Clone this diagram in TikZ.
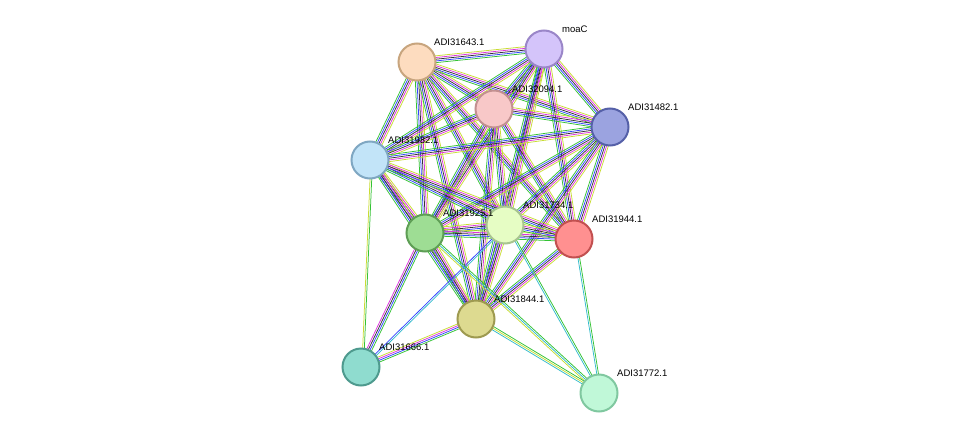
\documentclass[tikz,border=0pt]{standalone}
\usepackage{fontspec}
\setsansfont{Liberation Sans}
\usetikzlibrary{calc,backgrounds}

\definecolor{eg}{HTML}{33C233}
\definecolor{eb}{HTML}{3344FF}
\definecolor{ek}{HTML}{333333}
\definecolor{em}{HTML}{DD33DD}
\definecolor{ey}{HTML}{C8DC33}
\definecolor{ec}{HTML}{33BBCC}
\definecolor{er}{HTML}{EE3333}

\tikzset{
	prot/.style={draw, circle, minimum size=37pt, line width=2pt, inner sep=0pt},
	lbl/.style={font=\sffamily\fontsize{9.5}{10}\selectfont, anchor=south west, inner sep=1pt},
	link/.style={line width=0.75pt}
}

% one coloured strand per colour, side by side
\newcommand{\linkset}[3]{%
	\foreach \c [count=\i] in {#3} {
		\pgfmathsetmacro{\off}{(\i-2.5)*1.7}
		\draw[link, \c] ($(#1)!\off pt!90:(#2)$) -- ($(#2)!\off pt!-90:(#1)$);
	}%
}

\begin{document}
\begin{tikzpicture}[x=1pt, y=-1pt]
	\useasboundingbox (0,0) rectangle (975,439);
	\node [prot, fill={rgb,255:red,253;green,220;blue,191}, draw={rgb,255:red,200;green,165;blue,126}] (P643) at (417,62) {};
	\node [prot, fill={rgb,255:red,212;green,196;blue,250}, draw={rgb,255:red,154;green,134;blue,200}] (moaC) at (544,49) {};
	\node [prot, fill={rgb,255:red,248;green,200;blue,200}, draw={rgb,255:red,194;green,144;blue,144}] (P094) at (494,109) {};
	\node [prot, fill={rgb,255:red,155;green,163;blue,224}, draw={rgb,255:red,85;green,96;blue,168}] (P482) at (610,127) {};
	\node [prot, fill={rgb,255:red,194;green,228;blue,248}, draw={rgb,255:red,127;green,167;blue,194}] (P932) at (370,160) {};
	\node [prot, fill={rgb,255:red,158;green,221;blue,148}, draw={rgb,255:red,94;green,158;blue,85}] (P925) at (425,233) {};
	\node [prot, fill={rgb,255:red,230;green,253;blue,196}, draw={rgb,255:red,168;green,196;blue,144}] (P734) at (505,225) {};
	\node [prot, fill={rgb,255:red,255;green,144;blue,144}, draw={rgb,255:red,194;green,80;blue,80}] (P944) at (574,239) {};
	\node [prot, fill={rgb,255:red,221;green,218;blue,144}, draw={rgb,255:red,158;green,154;blue,80}] (P844) at (476,319) {};
	\node [prot, fill={rgb,255:red,143;green,220;blue,207}, draw={rgb,255:red,78;green,154;blue,142}] (P666) at (361,367) {};
	\node [prot, fill={rgb,255:red,192;green,248;blue,216}, draw={rgb,255:red,128;green,200;blue,160}] (P772) at (599,393) {};

	\node [lbl] at (433,47) {ADI31643.1};
	\node [lbl] at (561,34) {moaC};
	\node [lbl] at (511,94) {ADI32094.1};
	\node [lbl] at (627,112) {ADI31482.1};
	\node [lbl] at (387,145) {ADI31932.1};
	\node [lbl] at (442,218) {ADI31925.1};
	\node [lbl] at (522,210) {ADI31734.1};
	\node [lbl] at (591,224) {ADI31944.1};
	\node [lbl] at (493,304) {ADI31844.1};
	\node [lbl] at (378,352) {ADI31666.1};
	\node [lbl] at (616,378) {ADI31772.1};

	\begin{pgfonlayer}{background}
		\foreach \a/\b in {P643/moaC, P643/P094, P643/P482, P643/P932, P643/P925, P643/P734, P643/P944, P643/P844,
			moaC/P094, moaC/P482, moaC/P932, moaC/P925, moaC/P734, moaC/P944, moaC/P844,
			P094/P482, P094/P932, P094/P925, P094/P734, P094/P944, P094/P844,
			P482/P932, P482/P925, P482/P734, P482/P944, P482/P844,
			P932/P925, P932/P734, P932/P944, P932/P844,
			P925/P734, P925/P944, P925/P844, P734/P944, P734/P844, P944/P844} {
			\linkset{\a}{\b}{eg,eb,ek,em,ey}
		}
		\linkset{P666}{P925}{eg,eb,ek,em}
		\linkset{P666}{P844}{eg,eb,em,ey}
		\linkset{P666}{P932}{eg,ey}
		\linkset{P666}{P734}{ec,eb}
		\linkset{P772}{P944}{eg,ec}
		\linkset{P772}{P925}{eg,ec,ey}
		\linkset{P772}{P844}{eg,ey,ec}
		\linkset{P772}{P734}{eg,ec}
	\end{pgfonlayer}
\end{tikzpicture}
\end{document}
